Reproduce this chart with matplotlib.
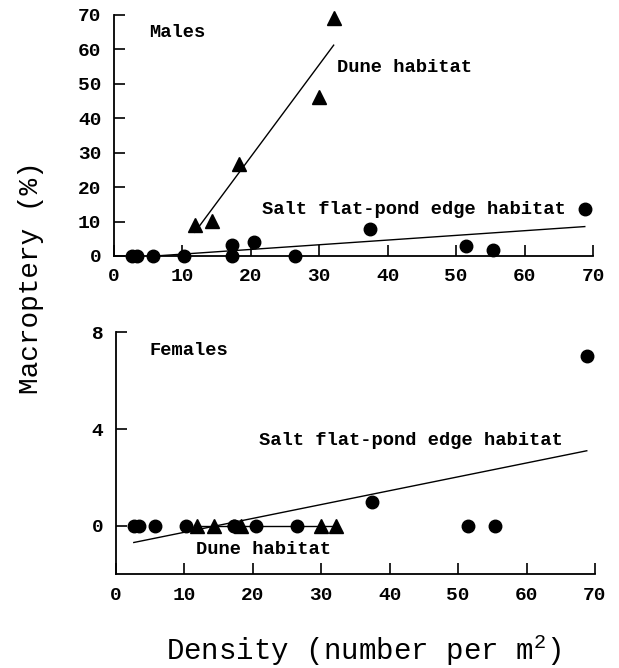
import numpy as np
from matplotlib import pyplot as plt

plt.rcParams['font.family'] = ['Liberation Mono', 'DejaVu Sans Mono']
plt.rcParams['mathtext.fontset'] = 'custom'
plt.rcParams['mathtext.rm'] = 'Liberation Mono'

# salt flat-pond edge habitat (circles)
salt_density = [2.6, 3.4, 5.7, 10.2, 17.3, 17.3, 20.4, 26.5, 37.4, 51.4, 55.4, 68.8]
salt_males = [0, 0, 0, 0, 3.1, 0, 4.2, 0, 7.7, 2.9, 1.7, 13.6]
salt_females = [0, 0, 0, 0, 0, 0, 0, 0, 1, 0, 0, 7]

# dune habitat (triangles)
dune_density = [11.8, 14.3, 18.2, 30.0, 32.1]
dune_males = [8.9, 10.2, 26.8, 46.2, 69.2]
dune_females = [0, 0, 0, 0, 0]

x_ticks = [0, 10, 20, 30, 40, 50, 60, 70]
male_yticks = [0, 10, 20, 30, 40, 50, 60, 70]
female_yticks = [0, 4, 8]


def fit_line(ax, x, y):
    b, a = np.polyfit(x, y, 1)
    xs = np.array([min(x), max(x)])
    ax.plot(xs, a + b * xs, color='black', lw=1.0, zorder=2)


def style_axis(ax, yticks, ylim):
    ax.set_xlim(0, 70)
    ax.set_ylim(*ylim)
    ax.set_xticks(x_ticks)
    ax.set_yticks(yticks)
    for s in ['top', 'right']:
        ax.spines[s].set_visible(False)
    for s in ['left', 'bottom']:
        ax.spines[s].set_linewidth(1.3)
        ax.spines[s].set_clip_on(False)
    ax.tick_params(direction='in', length=8, width=1.2, pad=9, labelsize=14)
    for lab in ax.get_xticklabels() + ax.get_yticklabels():
        lab.set_fontweight('bold')


fig = plt.figure(figsize=(6.19, 6.68), dpi=100)
ax1 = fig.add_axes([0.1842, 0.6168, 0.7738, 0.3608])
ax2 = fig.add_axes([0.1874, 0.1407, 0.7738, 0.3618])

# males
ax1.plot(salt_density, salt_males, 'o', color='black', ms=9, zorder=3, clip_on=False)
ax1.plot(dune_density, dune_males, '^', color='black', ms=9.5, zorder=3, clip_on=False)
fit_line(ax1, salt_density, salt_males)
fit_line(ax1, dune_density, dune_males)
style_axis(ax1, male_yticks, (0, 70))
ax1.text(5.2, 64.8, 'Males', fontsize=13.5, fontweight='bold', va='center')
ax1.text(32.6, 54.6, 'Dune habitat', fontsize=13.5, fontweight='bold', va='center')
ax1.text(21.6, 13.4, 'Salt flat-pond edge habitat', fontsize=13.5, fontweight='bold', va='center')

# females
ax2.plot(salt_density, salt_females, 'o', color='black', ms=9, zorder=3, clip_on=False)
ax2.plot(dune_density, dune_females, '^', color='black', ms=9.5, zorder=3, clip_on=False)
fit_line(ax2, salt_density, salt_females)
fit_line(ax2, dune_density, dune_females)
style_axis(ax2, female_yticks, (-2, 8))
ax2.text(4.9, 7.23, 'Females', fontsize=13.5, fontweight='bold', va='center')
ax2.text(20.9, 3.53, 'Salt flat-pond edge habitat', fontsize=13.5, fontweight='bold', va='center')
ax2.text(11.7, -1.0, 'Dune habitat', fontsize=13.5, fontweight='bold', va='center')

fig.text(0.05, 0.585, 'Macroptery (%)', rotation=90, fontsize=20, ha='center', va='center')
fig.text(0.588, 0.027, 'Density (number per m$^{2}$)', fontsize=21, ha='center', va='center')

fig.savefig('out.png', dpi=100)
